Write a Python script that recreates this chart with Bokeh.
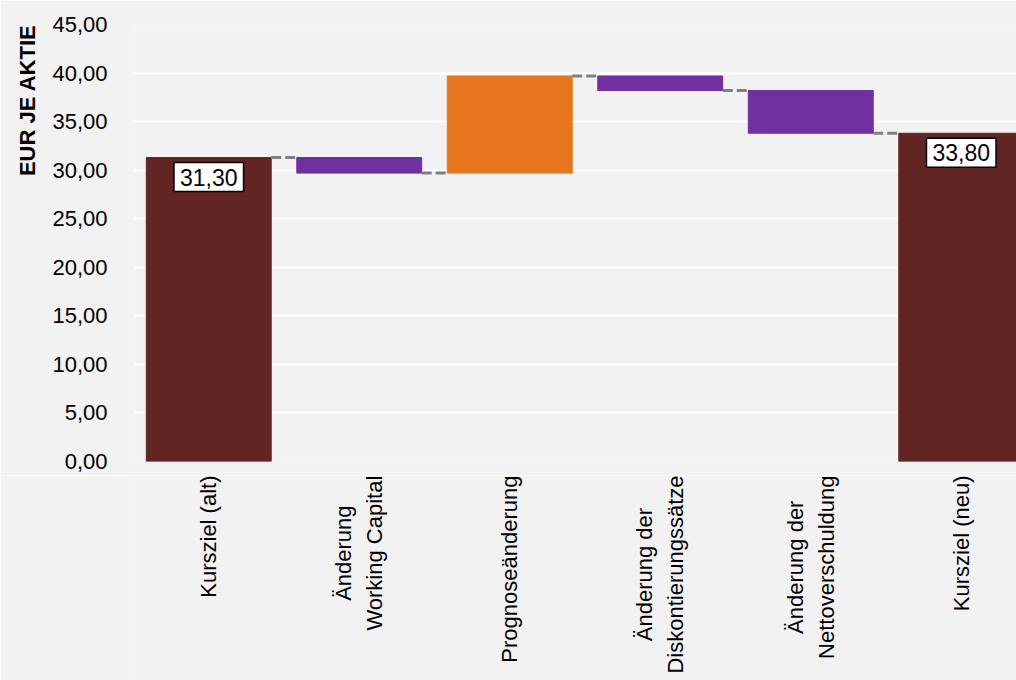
from math import pi
from bokeh.plotting import figure
from bokeh.layouts import column
from bokeh.core.properties import value
from bokeh.models import ColumnDataSource, Range1d, FixedTicker, Label, Title
from bokeh.embed import file_html
from bokeh.resources import INLINE

# ---- data ----
categories = ["Kursziel (alt)", "Änderung\nWorking Capital", "Prognoseänderung",
              "Änderung der\nDiskontierungssätze", "Änderung der\nNettoverschuldung", "Kursziel (neu)"]
values = [31.30, -1.60, 10.00, -1.50, -4.40, 33.80]
is_total = [True, False, False, False, False, True]
total_labels = ["31,30", "", "", "", "", "33,80"]
y_ticks = [0, 5, 10, 15, 20, 25, 30, 35, 40, 45]
y_tick_labels = ["0,00", "5,00", "10,00", "15,00", "20,00", "25,00", "30,00", "35,00", "40,00", "45,00"]
y_title = "EUR JE AKTIE"

# ---- styles ----
BG = "#F2F2F2"
C_TOTAL = "#632523"
C_UP = "#E8761E"
C_DOWN = "#7030A0"
FONT = "Liberation Sans"
BAR_W = 0.83
XLAB_SIZE = 22
XLAB_GAP = 0
MAIN_BOTTOM = 14
STRIP_H = 205

# approximate Arial/Liberation Sans advance widths (1/1000 em), used to top-align centred labels
_W = {" ": 278, "(": 333, ")": 333, "K": 667, "Ä": 667, "W": 944, "C": 722, "P": 667, "D": 722,
      "N": 722, "a": 556, "ä": 556, "c": 500, "d": 556, "e": 556, "g": 556, "h": 556, "i": 222,
      "k": 500, "l": 222, "n": 556, "o": 556, "p": 556, "r": 333, "s": 500, "t": 278, "u": 556,
      "v": 500, "z": 500}


def text_len(s, size):
    return sum(_W.get(ch, 556) for ch in s) / 1000.0 * size


xs = list(range(len(categories)))
bottoms, tops, colors, ends = [], [], [], []
running = 0.0
for v, t in zip(values, is_total):
    if t:
        b, e = 0.0, v
        running = v
        colors.append(C_TOTAL)
    else:
        b, e = running, running + v
        running = running + v
        colors.append(C_UP if v > 0 else C_DOWN)
    bottoms.append(min(b, e))
    tops.append(max(b, e))
    ends.append(running)

src = ColumnDataSource(dict(x=xs, bottom=bottoms, top=tops, color=colors))

x_range = Range1d(-0.5, 5.367)
p = figure(frame_width=883, frame_height=437, output_backend="svg", toolbar_location=None,
           x_range=x_range, y_range=Range1d(0, 45), x_axis_location=None,
           min_border_left=133, min_border_top=24, min_border_bottom=MAIN_BOTTOM, min_border_right=0,
           background_fill_color=BG, border_fill_color=BG, outline_line_color=None)

p.vbar(x="x", bottom="bottom", top="top", width=BAR_W, color="color", source=src)

# connectors
cx0 = [i + BAR_W / 2 for i in xs[:-1]]
cx1 = [i + 1 - BAR_W / 2 for i in xs[:-1]]
p.segment(x0=cx0, x1=cx1, y0=ends[:-1], y1=ends[:-1], line_color="#808080",
          line_width=3, line_dash="10 4")

# total labels
for i, (t, lab) in enumerate(zip(is_total, total_labels)):
    if t:
        p.add_layout(Label(x=i, y=tops[i], text=lab, text_align="center", text_baseline="top",
                           y_offset=-5, text_font=FONT, text_font_size="23px", text_color="black",
                           background_fill_color="white", border_line_color="black",
                           border_line_width=1.5, padding=(6, 6)))

# grid / y axis
p.xgrid.grid_line_color = None
p.ygrid.grid_line_color = "white"
p.ygrid.grid_line_width = 2
p.ygrid.ticker = FixedTicker(ticks=y_ticks)

p.yaxis.ticker = FixedTicker(ticks=y_ticks)
p.yaxis.major_label_overrides = {t: l for t, l in zip(y_ticks, y_tick_labels)}
p.yaxis.axis_line_color = None
p.yaxis.major_tick_line_color = None
p.yaxis.minor_tick_line_color = None
p.yaxis.major_label_standoff = 20
p.yaxis.major_label_text_font = FONT
p.yaxis.major_label_text_font_size = "22px"
p.yaxis.major_label_text_color = "black"

p.add_layout(Title(text=y_title, align="right", text_font=FONT, text_font_size="22px",
                   text_font_style="bold", text_color="black", standoff=19), "left")

# category label strip (vertical text, lines centred on each other, block top-aligned)
p2 = figure(frame_width=883, frame_height=STRIP_H, output_backend="svg", toolbar_location=None,
            x_range=x_range, y_range=Range1d(STRIP_H, 0), x_axis_location=None, y_axis_location=None,
            min_border_left=133, min_border_top=0, min_border_bottom=0, min_border_right=0,
            background_fill_color=BG, border_fill_color=BG, outline_line_color=None)
p2.grid.visible = False
lab_y = [XLAB_GAP + max(text_len(s, XLAB_SIZE) for s in c.split("\n")) / 2 for c in categories]
lab_src = ColumnDataSource(dict(x=xs, y=lab_y, text=categories))
p2.text(x="x", y="y", text="text", source=lab_src, angle=pi / 2, text_align="center",
        text_baseline="middle", text_font=value(FONT), text_font_size=value(f"{XLAB_SIZE}px"),
        text_color="black", text_line_height=1.25)

layout = column(p, p2, spacing=0)
open("out.html", "w").write(file_html(layout, INLINE))
